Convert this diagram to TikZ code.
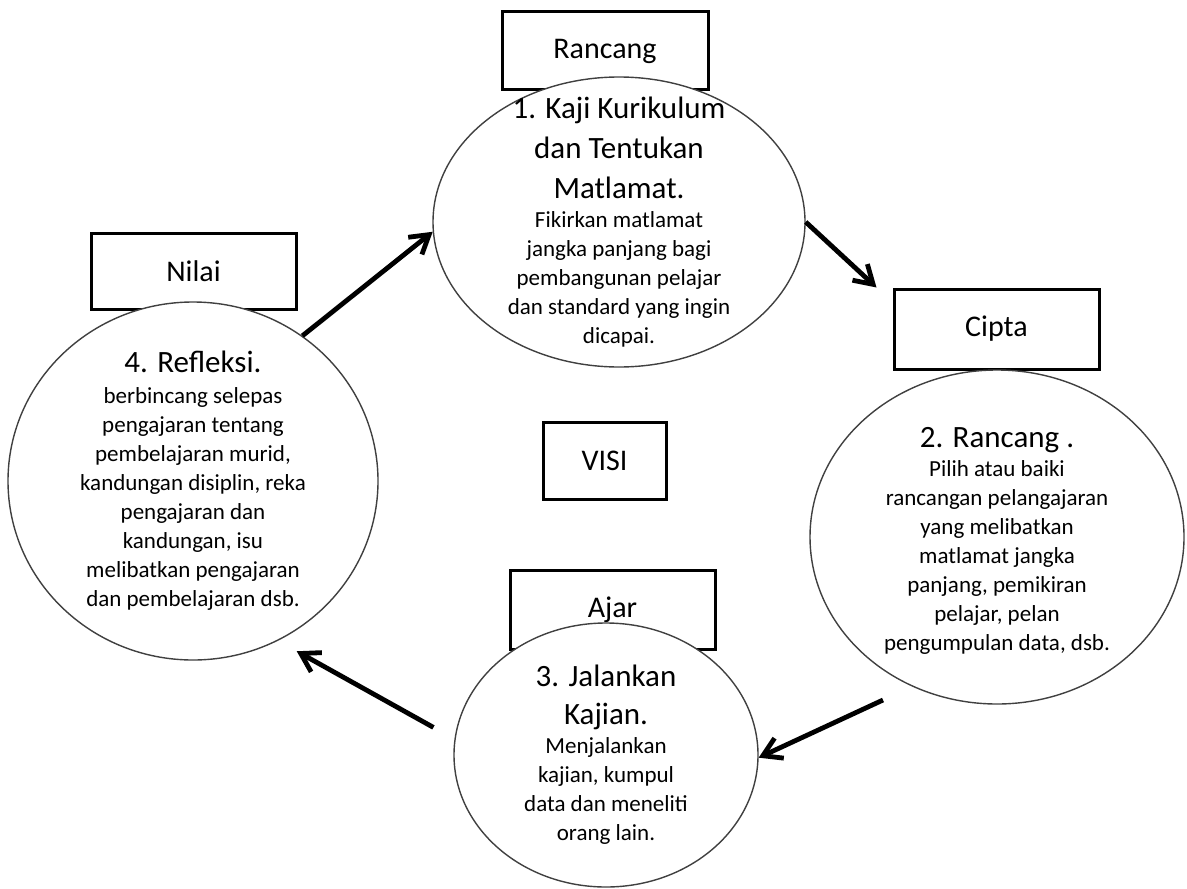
\documentclass[tikz,border=0pt]{standalone}
\usepackage{fontspec}
\setmainfont{Carlito}
\usetikzlibrary{shapes.geometric,arrows.meta}

\newcommand{\stagehead}{\fontsize{15.5}{20}\selectfont}
\newcommand{\stagebody}{\fontsize{11.5}{14.5}\selectfont}

\begin{document}
\begin{tikzpicture}[x=0.5pt, y=-0.5pt,
    tagbox/.style={draw, line width=1.5pt, inner sep=0pt, font=\fontsize{15}{18}\selectfont},
    stage/.style={draw=black!75, fill=white, ellipse, line width=0.7pt, inner sep=0pt},
    stagetext/.style={align=center, inner sep=0pt, font=\stagebody},
    flow/.style={-{Straight Barb[length=9pt,width=11pt]}, line width=2.4pt}]
    \useasboundingbox (0,0) rectangle (1187,888);

    % boxes first, the circles lie over them
    \node[tagbox, minimum width=103pt, minimum height=39pt] (rancang) at (605,51) {Rancang};
    \node[tagbox, minimum width=102.5pt, minimum height=38pt] (nilai) at (193.5,271) {Nilai};
    \node[tagbox, minimum width=102.5pt, minimum height=40pt] (cipta) at (996.5,329) {Cipta};
    \node[tagbox, minimum width=102.5pt, minimum height=39.5pt] (ajar) at (612.5,609.5) {Ajar};
    \node[tagbox, minimum width=61.5pt, minimum height=38.5pt] (visi) at (604.5,460.5) {VISI};

    \node[stage, minimum width=186pt, minimum height=145pt] (kaji) at (619,222) {};
    \node[stage, minimum width=187pt, minimum height=167pt] (rancangan) at (997,537) {};
    \node[stage, minimum width=152pt, minimum height=132pt] (jalankan) at (606,755) {};
    \node[stage, minimum width=185pt, minimum height=179pt] (refleksi) at (193,481) {};

    \node[stagetext] (kajitext) at (kaji) {\stagehead 1. Kaji Kurikulum\\[5.5pt] \stagehead dan Tentukan\\[5.5pt] \stagehead Matlamat.\\
        Fikirkan matlamat\\ jangka panjang bagi\\ pembangunan pelajar\\ dan standard yang ingin\\ dicapai.};
    \node[stagetext] (rancangantext) at ([yshift=-2pt]rancangan) {\stagehead 2. Rancang .\\
        Pilih atau baiki\\ rancangan pelangajaran\\ yang melibatkan\\ matlamat jangka\\ panjang, pemikiran\\ pelajar, pelan\\ pengumpulan data, dsb.};
    \node[stagetext] (jalankantext) at (jalankan) {\stagehead 3. Jalankan\\[4.5pt] \stagehead Kajian.\\
        Menjalankan\\ kajian, kumpul\\ data dan meneliti\\ orang lain.};
    \node[stagetext] (refleksitext) at (refleksi) {\stagehead 4. Refleksi.\\[1pt]
        berbincang selepas\\ pengajaran tentang\\ pembelajaran murid,\\ kandungan disiplin, reka\\ pengajaran dan\\ kandungan, isu\\ melibatkan pengajaran\\ dan pembelajaran dsb.};

    \coordinate (ciptain) at ([xshift=-8pt]cipta.north west);
    \coordinate (ajarout) at (883,700);

    \draw[flow] (refleksi.53) -- (kaji.183);
    \draw[flow] (kaji.0) -- (ciptain);
    \draw[flow] (ajarout) -- (jalankan.359);
    \draw[flow, shorten <=12pt, shorten >=10.75pt] (jalankan.174) -- (refleksi.298.6);
\end{tikzpicture}
\end{document}
